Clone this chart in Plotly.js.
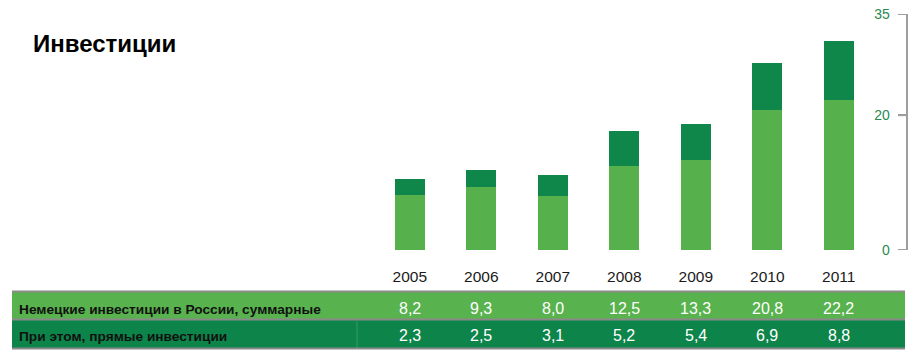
<!DOCTYPE html>
<html><head><meta charset="utf-8">
<script src="https://cdn.plot.ly/plotly-3.0.1.min.js"></script>
<style>html,body{margin:0;padding:0;background:#fff}#c{width:917px;height:356px}</style>
</head><body><div id="c"></div>
<script>
const years = ["2005","2006","2007","2008","2009","2010","2011"];
const totalInv = [8.2, 9.3, 8.0, 12.5, 13.3, 20.8, 22.2];
const directInv = [2.3, 2.5, 3.1, 5.2, 5.4, 6.9, 8.8];
const rowLabels = ["Немецкие инвестиции в России, суммарные", "При этом, прямые инвестиции"];
const titleText = "Инвестиции";
const yTicks = [0, 20, 35];

const W = 917, H = 356;
const L = 374, R = 906, T = 14, B = 250;
const px = x => (x - L) / (R - L);
const py = y => (B - y) / (B - T);
const fmt = v => v.toFixed(1).replace('.', ',');

const lightG = '#56b04b', darkG = '#0f874a';
const rowLight = '#58b24d', rowDark = '#0d8449', border = '#8a8a8a';
const axisGray = '#9e9e9e';

const traces = [
  {type:'bar', x: years, y: totalInv, marker:{color: lightG}, hoverinfo:'skip'},
  {type:'bar', x: years, y: directInv, marker:{color: darkG}, hoverinfo:'skip'}
];

const shapes = [
  {type:'rect', xref:'paper', yref:'paper', x0:px(12), x1:px(905), y0:py(292), y1:py(319), fillcolor: rowLight, line:{width:0}, layer:'below'},
  {type:'rect', xref:'paper', yref:'paper', x0:px(12), x1:px(905), y0:py(320), y1:py(348), fillcolor: rowDark, line:{width:0}, layer:'below'},
  {type:'line', xref:'paper', yref:'paper', x0:px(12), x1:px(905), y0:py(291.5), y1:py(291.5), line:{color: border, width:2}},
  {type:'line', xref:'paper', yref:'paper', x0:px(12), x1:px(905), y0:py(319.5), y1:py(319.5), line:{color: border, width:2}},
  {type:'line', xref:'paper', yref:'paper', x0:px(12), x1:px(905), y0:py(348.5), y1:py(348.5), line:{color: border, width:2}},
  {type:'line', xref:'paper', yref:'paper', x0:px(357), x1:px(357), y0:py(321), y1:py(348), line:{color: 'rgba(255,255,255,0.18)', width:1}}
];
// bracket-style tick marks on the right value axis
yTicks.forEach(v => {
  shapes.push({type:'line', xref:'paper', yref:'y', x0:px(898), x1:px(906), y0:v, y1:v, line:{color: axisGray, width:2}});
});

const annotations = [];
rowLabels.forEach((t, i) => {
  annotations.push({xref:'paper', yref:'paper', x:px(17), y:py(i === 0 ? 309 : 336), xanchor:'left', yanchor:'middle',
    text:'<b>' + t + '</b>', showarrow:false, font:{family:'Liberation Sans, Arial', size:13.7, color:'#111'}});
});
years.forEach((yr, i) => {
  annotations.push({xref:'x', yref:'paper', x:i, y:py(308.5), xanchor:'center', yanchor:'middle',
    text: fmt(totalInv[i]), showarrow:false, font:{family:'Liberation Sans, Arial', size:16, color:'#fff'}});
  annotations.push({xref:'x', yref:'paper', x:i, y:py(335.5), xanchor:'center', yanchor:'middle',
    text: fmt(directInv[i]), showarrow:false, font:{family:'Liberation Sans, Arial', size:16, color:'#fff'}});
});

const layout = {
  width: W, height: H,
  margin: {l: L, r: W - R, t: T, b: H - B, pad: 0},
  paper_bgcolor: '#fff', plot_bgcolor: '#fff',
  showlegend: false,
  barmode: 'stack', bargap: 0.58,
  title: {text: '<b>' + titleText + '</b>', x: 33 / W, xanchor: 'left', xref: 'container',
          y: 1 - 44 / H, yanchor: 'middle', yref: 'container',
          font: {family: 'Liberation Sans, Arial', size: 24, color: '#000'}},
  xaxis: {type: 'category', range: [-0.5, 6.94], showgrid: false, zeroline: false, showline: false,
          ticks: '', ticklabelstandoff: 15, tickfont: {family: 'Liberation Sans, Arial', size: 15.5, color: '#1a1a1a'},
          fixedrange: true},
  yaxis: {side: 'right', range: [0, 35], tickvals: yTicks, ticktext: yTicks.map(String),
          showgrid: false, zeroline: false, showline: true, linecolor: axisGray, linewidth: 2,
          ticks: 'inside', ticklen: 8, tickwidth: 2, tickcolor: axisGray,
          ticklabelposition: 'inside', ticklabelstandoff: 8, ticklabeloverflow: 'allow',
          tickfont: {family: 'Liberation Sans, Arial', size: 14, color: '#2a8a50'}, fixedrange: true},
  shapes: shapes,
  annotations: annotations
};

Plotly.newPlot('c', traces, layout, {staticPlot: true, displayModeBar: false});
</script>
</body></html>
